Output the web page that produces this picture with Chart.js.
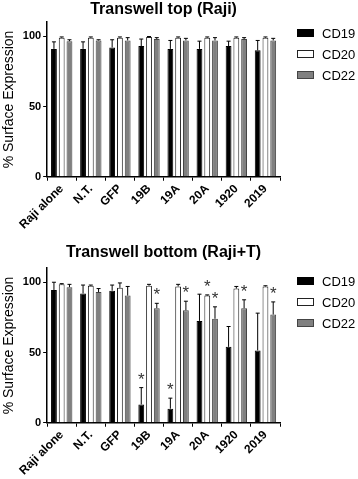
<!DOCTYPE html>
<html>
<head>
<meta charset="utf-8">
<script src="https://cdn.jsdelivr.net/npm/chart.js@4/dist/chart.umd.min.js"></script>
<style>
  html, body { margin: 0; padding: 0; background: #fff; }
  #wrap { position: relative; width: 358px; height: 479px; }
  .box { position: absolute; left: 0; width: 358px; }
  #b1 { top: 0; height: 240px; }
  #b2 { top: 240px; height: 239px; }
</style>
</head>
<body>
<div id="wrap">
  <div class="box" id="b1"><canvas id="c1"></canvas></div>
  <div class="box" id="b2"><canvas id="c2"></canvas></div>
</div>
<script>
const categories = ["Raji alone", "N.T.", "GFP", "19B", "19A", "20A", "1920", "2019"];
const seriesNames = ["CD19", "CD20", "CD22"];
const yTicks = [0, 50, 100];

// Top panel: Transwell top (Raji)
const topCD19 = [91, 91, 92, 93, 91, 91, 93, 90];
const topCD20 = [99, 99, 99, 99.5, 99, 99, 99, 99];
const topCD22 = [96.5, 97, 97, 98, 97, 97, 98, 97];
const topCD19Err = [5, 5, 5.5, 5, 6, 5.5, 3.5, 7];
const topCD20Err = [0.5, 0.5, 0.5, 0.3, 0.5, 0.5, 0.5, 0.5];
const topCD22Err = [1, 0.5, 2, 1, 1.5, 2, 1, 1.5];

// Bottom panel: Transwell bottom (Raji+T)
const botCD19 = [94.5, 92, 94, 13, 10, 72.5, 54, 51.5];
const botCD20 = [98.5, 97.5, 96, 97.5, 97, 90.5, 95.5, 97];
const botCD22 = [96.5, 93, 90.5, 81.5, 80, 74, 81.5, 77];
const botCD19Err = [5.5, 6, 4, 12, 7.5, 19, 14.5, 26.5];
const botCD20Err = [0.5, 0.5, 3.5, 1, 1.5, 0.5, 1.5, 0.5];
const botCD22Err = [2, 2.5, 6.5, 3.5, 6.5, 8.5, 6, 9];
const botCD19Star = [0, 0, 0, 1, 1, 0, 0, 0];
const botCD20Star = [0, 0, 0, 0, 0, 1, 0, 0];
const botCD22Star = [0, 0, 0, 1, 1, 1, 1, 1];

const FONT = "'Liberation Sans', Arial, sans-serif";

const errorBarPlugin = {
  id: 'errorBars',
  afterDatasetsDraw(chart) {
    const ctx = chart.ctx;
    const yScale = chart.scales.y;
    chart.data.datasets.forEach((ds, di) => {
      const meta = chart.getDatasetMeta(di);
      if (meta.hidden) return;
      meta.data.forEach((bar, i) => {
        const v = ds.data[i];
        const e = ds.errors ? ds.errors[i] : 0;
        const yTop = yScale.getPixelForValue(v + e);
        ctx.save();
        ctx.strokeStyle = '#000';
        ctx.lineWidth = 1;
        if (e > 0) {
          ctx.beginPath();
          ctx.moveTo(bar.x, bar.y);
          ctx.lineTo(bar.x, yTop);
          ctx.moveTo(bar.x - 2, yTop);
          ctx.lineTo(bar.x + 2, yTop);
          ctx.stroke();
        }
        if (ds.stars && ds.stars[i]) {
          ctx.fillStyle = '#333';
          ctx.font = '17px ' + FONT;
          ctx.textAlign = 'center';
          ctx.textBaseline = 'alphabetic';
          ctx.fillText('*', bar.x, yTop - 3);
        }
        ctx.restore();
      });
    });
  }
};

// Legend drawn in the right margin, from the dataset labels and colours
const sideLegendPlugin = {
  id: 'sideLegend',
  afterDraw(chart, args, opts) {
    const ctx = chart.ctx;
    ctx.save();
    chart.data.datasets.forEach((ds, i) => {
      const cy = opts.top + i * opts.spacing;
      ctx.fillStyle = ds.backgroundColor;
      ctx.strokeStyle = ds.borderColor;
      ctx.lineWidth = 1;
      ctx.fillRect(opts.x, cy - 4, 17, 8);
      ctx.strokeRect(opts.x + 0.5, cy - 3.5, 16, 7);
      ctx.fillStyle = '#000';
      ctx.font = '13px ' + FONT;
      ctx.textAlign = 'left';
      ctx.textBaseline = 'middle';
      ctx.fillText(ds.label, opts.x + 25, cy + 1);
    });
    ctx.restore();
  }
};

function makeChart(id, title, titleSize, pads, legendTop, d19, d20, d22, e19, e20, e22, s19, s20, s22) {
  return new Chart(document.getElementById(id), {
    type: 'bar',
    data: {
      labels: categories,
      datasets: [
        { label: seriesNames[0], data: d19, errors: e19, stars: s19,
          backgroundColor: '#000', borderColor: '#000', borderWidth: 1 },
        { label: seriesNames[1], data: d20, errors: e20, stars: s20,
          backgroundColor: '#fff', borderColor: '#222', borderWidth: 1 },
        { label: seriesNames[2], data: d22, errors: e22, stars: s22,
          backgroundColor: '#808080', borderColor: '#444', borderWidth: 1 }
      ]
    },
    options: {
      responsive: true,
      maintainAspectRatio: false,
      animation: false,
      layout: { padding: { left: 1, right: 78, top: 0, bottom: pads.bottom } },
      datasets: { bar: { categoryPercentage: 0.8, barPercentage: 0.75 } },
      plugins: {
        title: {
          display: true, text: title, color: '#000', fullSize: false,
          font: { family: FONT, size: titleSize, weight: 'bold' },
          padding: { top: pads.titleTop, bottom: pads.titleBottom }
        },
        legend: { display: false },
        sideLegend: { x: 297, top: legendTop, spacing: 21 },
        tooltip: { enabled: false }
      },
      scales: {
        x: {
          offset: true,
          grid: { display: true, drawOnChartArea: false, drawTicks: true, tickLength: 4, color: '#000', lineWidth: 1 },
          border: { display: true, color: '#000', width: 1.5 },
          ticks: { color: '#000', font: { family: FONT, size: 12, weight: 'bold' },
                   maxRotation: 45, minRotation: 45, padding: 1 }
        },
        y: {
          min: 0, max: 110,
          afterBuildTicks(axis) { axis.ticks = yTicks.map(v => ({ value: v })); },
          grid: { display: true, drawOnChartArea: false, drawTicks: true, tickLength: 4, color: '#000', lineWidth: 1 },
          border: { display: true, color: '#000', width: 1.5 },
          ticks: { color: '#000', font: { family: FONT, size: 11, weight: 'bold' }, padding: 2 },
          title: { display: true, text: '% Surface Expression', color: '#000',
                   font: { family: FONT, size: 14 }, padding: { top: 0, bottom: 3 } }
        }
      }
    },
    plugins: [errorBarPlugin, sideLegendPlugin]
  });
}

makeChart('c1', 'Transwell top (Raji)', 16, { titleTop: 0, titleBottom: 3, bottom: 7 }, 33,
  topCD19, topCD20, topCD22, topCD19Err, topCD20Err, topCD22Err, null, null, null);
makeChart('c2', 'Transwell bottom (Raji+T)', 16, { titleTop: 3, titleBottom: 6, bottom: 0 }, 41,
  botCD19, botCD20, botCD22, botCD19Err, botCD20Err, botCD22Err, botCD19Star, botCD20Star, botCD22Star);
</script>
</body>
</html>
